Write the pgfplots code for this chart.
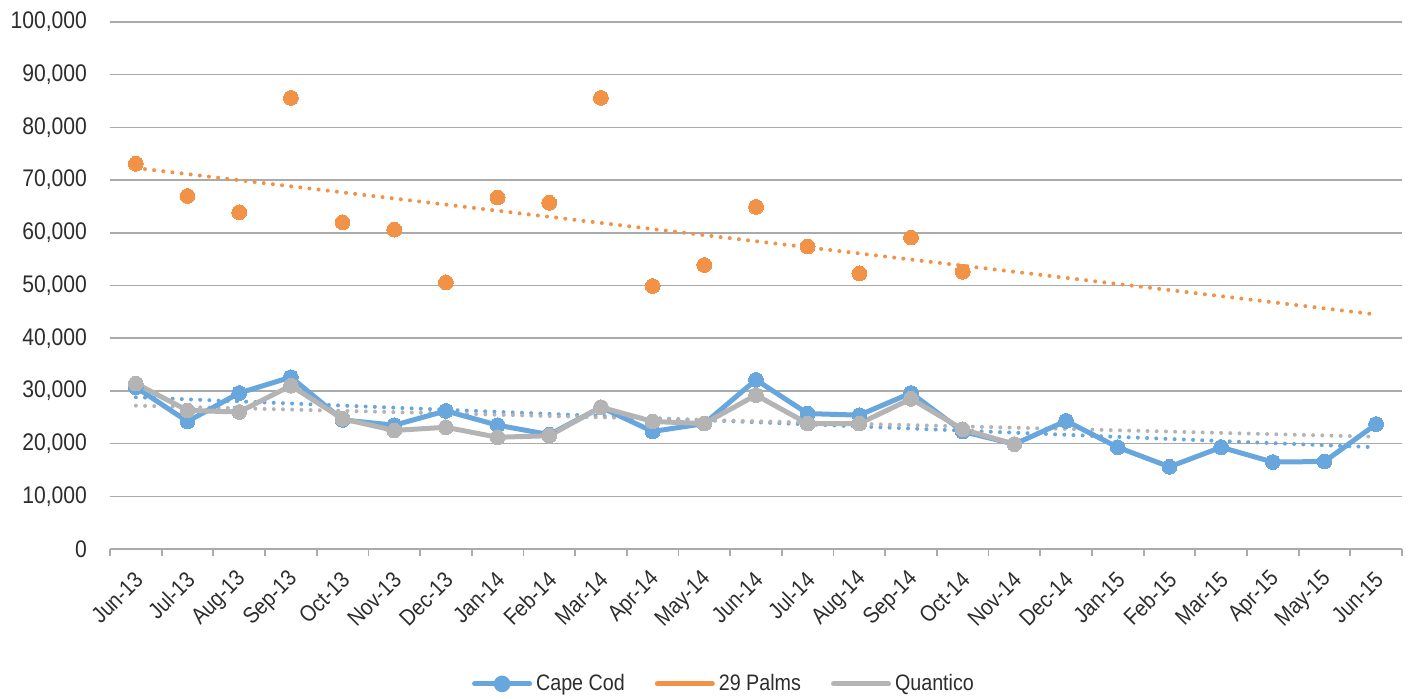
\documentclass[border=0pt]{standalone}
\usepackage{pgfplots}
\pgfplotsset{compat=1.18}
\usepackage{pgfplotstable}
\usepackage{fontspec}
\setmainfont{Liberation Sans}[FakeStretch=0.88]

\definecolor{capeblue}{RGB}{104,166,222}
\definecolor{palmsorange}{RGB}{241,146,70}
\definecolor{quangray}{RGB}{180,180,180}
\definecolor{gridgray}{RGB}{170,170,170}
\definecolor{labeltext}{RGB}{45,45,45}

% Monthly values; x = month index from Jun-13
\pgfplotstableread{
x  y
0  30700
1  24200
2  29600
3  32600
4  24500
5  23500
6  26200
7  23500
8  21700
9  26900
10 22300
11 23800
12 32100
13 25700
14 25400
15 29600
16 22300
17 19900
18 24300
19 19300
20 15600
21 19300
22 16500
23 16600
24 23700
}\capecod

\pgfplotstableread{
x  y
0  73100
1  67000
2  63900
3  85600
4  62000
5  60600
6  50600
7  66700
8  65700
9  85600
10 49900
11 53900
12 64900
13 57400
14 52300
15 59100
16 52600
}\palms

\pgfplotstableread{
x  y
0  31400
1  26300
2  26000
3  31000
4  24700
5  22500
6  23100
7  21200
8  21500
9  26900
10 24200
11 23800
12 29200
13 23800
14 23800
15 28500
16 22700
17 19900
}\quantico

% Linear trend lines (end points)
\pgfplotstableread{
x  y
0  28800
24 19300
}\capetrend
\pgfplotstableread{
x  y
0  72300
24 44500
}\palmstrend
\pgfplotstableread{
x  y
0  27200
24 21300
}\quantrend

\begin{document}
\begin{tikzpicture}
\useasboundingbox (-55pt,-74.5pt) rectangle (649pt,274.5pt);
\begin{axis}[
  scale only axis,
  width=646pt, height=263.5pt,
  xmin=-0.5, xmax=24.5,
  ymin=0, ymax=100000,
  ytick={0,10000,...,100000},
  scaled y ticks=false,
  /pgf/number format/assume math mode=true,
  yticklabel={\pgfmathprintnumber[fixed,1000 sep={,}]{\tick}},
  xtick={0,...,24},
  xticklabels={Jun-13,Jul-13,Aug-13,Sep-13,Oct-13,Nov-13,Dec-13,Jan-14,Feb-14,Mar-14,Apr-14,May-14,Jun-14,Jul-14,Aug-14,Sep-14,Oct-14,Nov-14,Dec-14,Jan-15,Feb-15,Mar-15,Apr-15,May-15,Jun-15},
  minor xtick={-0.5,0.5,...,24.5},
  major tick length=0pt,
  minor tick length=3.5pt,
  tick align=outside,
  minor tick style={gridgray, line width=0.9pt},
  axis x line*=bottom,
  axis y line*=left,
  y axis line style={draw=none},
  x axis line style={gridgray, line width=0.9pt},
  ymajorgrids,
  major grid style={gridgray, line width=0.75pt},
  tick label style={text=labeltext},
  yticklabel style={font=\fontsize{12}{14}\selectfont, xshift=-8pt},
  xticklabel style={font=\fontsize{11.4}{13}\selectfont, rotate=45, anchor=east, xshift=-5pt, yshift=-10.6pt},
  legend style={at={(0.476,-0.256)}, anchor=center, draw=none, fill=none,
    font=\fontsize{11.2}{13}\selectfont, text=labeltext,
    legend columns=3,
    /tikz/every even column/.append style={column sep=13pt}},
  legend cell align=left,
  clip=false,
]
% trend lines
\addplot[capeblue, line width=2pt, line cap=round, dash pattern=on 0pt off 4.6pt, forget plot] table[x=x,y=y] {\capetrend};
\addplot[palmsorange, line width=2pt, line cap=round, dash pattern=on 0pt off 4.6pt, forget plot] table[x=x,y=y] {\palmstrend};
\addplot[quangray, line width=2pt, line cap=round, dash pattern=on 0pt off 4.6pt, forget plot] table[x=x,y=y] {\quantrend};
% series
\addplot[capeblue, line width=2.5pt, line join=round, line cap=round,
  mark=*, mark size=3.7pt, mark options={solid, fill=capeblue, draw=capeblue, line width=0pt},
  legend image code/.code={
    \draw[capeblue, line width=2.5pt, line cap=round] (0pt,0pt) -- (27.5pt,0pt);
    \fill[capeblue] (13.75pt,0pt) circle (2.9pt);}
  ] table[x=x,y=y] {\capecod};
\addlegendentry{Cape Cod}
\addplot[only marks, mark=*, mark size=3.7pt, mark options={fill=palmsorange, draw=palmsorange, line width=0pt},
  legend image code/.code={
    \draw[palmsorange, line width=2.5pt, line cap=round] (0pt,0pt) -- (27.5pt,0pt);}
  ] table[x=x,y=y] {\palms};
\addlegendentry{29 Palms}
\addplot[quangray, line width=2.5pt, line join=round, line cap=round,
  mark=*, mark size=3.7pt, mark options={solid, fill=quangray, draw=quangray, line width=0pt},
  legend image code/.code={
    \draw[quangray, line width=2.5pt, line cap=round] (0pt,0pt) -- (27.5pt,0pt);}
  ] table[x=x,y=y] {\quantico};
\addlegendentry{Quantico}
\end{axis}
\end{tikzpicture}
\end{document}
